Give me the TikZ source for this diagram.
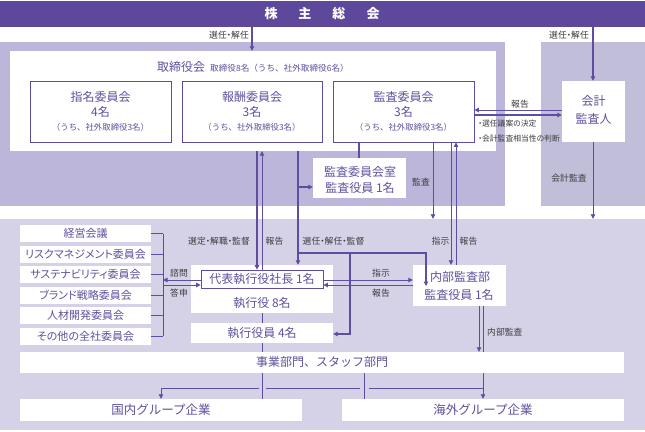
\documentclass[tikz,border=0pt]{standalone}
\usepackage{fontspec}
\setmainfont{Noto Sans CJK JP}
\newfontfamily\jpp{Noto Sans CJK JP}[RawFeature={+palt}]
\usetikzlibrary{arrows.meta,fit}
\definecolor{barpurple}{RGB}{94,72,156}
\definecolor{bgboard}{RGB}{187,182,218}
\definecolor{bgacc}{RGB}{193,190,218}
\definecolor{bgexec}{RGB}{213,210,232}
\definecolor{linepurple}{RGB}{96,76,160}
\definecolor{textpurple}{RGB}{96,80,158}
\definecolor{labelgray}{RGB}{60,60,60}
\tikzset{
  bgbox/.style={fill=#1, draw=none, inner sep=0pt},
  wbox/.style={fill=white, draw=none, inner sep=0pt},
  fbox/.style={fill=white, draw=linepurple, line width=0.8pt, inner sep=0pt},
  txt/.style={text=textpurple, inner sep=0pt, font=\fontsize{12}{14}\selectfont},
  stxt/.style={text=textpurple, inner sep=0pt, font=\fontsize{8.4}{10}\selectfont},
  ltxt/.style={text=textpurple, inner sep=0pt, font=\jpp\fontsize{11}{13}\selectfont},
  lbl/.style={text=labelgray, inner sep=0pt, font=\jpp\fontsize{8.8}{10}\selectfont},
  thk/.style={draw=linepurple, line width=1.6pt},
  mid/.style={draw=linepurple, line width=1.2pt},
  thn/.style={draw=linepurple, line width=0.8pt},
  arr/.style={-{Triangle[length=4.5pt,width=4.5pt]}},
}
\begin{document}
\begin{tikzpicture}[x=1pt,y=-1pt]
\useasboundingbox (0,0) rectangle (645,431);
% backgrounds
\node[bgbox=barpurple, fit={(0,1) (645,27)}] (bar) {};
\node[bgbox=bgboard, fit={(0,42) (505,206)}] (boardbg) {};
\node[bgbox=bgacc, fit={(541,42) (645,206)}] (accbg) {};
\node[bgbox=bgexec, fit={(0,219) (645,430)}] (execbg) {};
% boxes
\node[wbox, fit={(10,51) (496,151)}] (boardw) {};
\node[fbox, fit={(30,81) (171,142)}] (shimei) {};
\node[fbox, fit={(182,81) (322,142)}] (houshu) {};
\node[fbox, fit={(333,81) (474,142)}] (kansa) {};
\node[wbox, fit={(562,81) (625,142)}] (acc) {};
\node[wbox, fit={(313,158) (406,198)}] (kshitsu) {};
\node[wbox, fit={(191,265) (333,313)}] (ceoarea) {};
\node[fbox, fit={(201,270) (323,288)}] (ceo) {};
\node[wbox, fit={(191,323) (333,343)}] (shikko) {};
\node[wbox, fit={(413,265) (506,306)}] (naibu) {};
\node[wbox, fit={(20,225) (151,242)}] (c1) {};
\node[wbox, fit={(20,245.5) (151,262.5)}] (c2) {};
\node[wbox, fit={(20,266) (151,283)}] (c3) {};
\node[wbox, fit={(20,286.5) (151,303.5)}] (c4) {};
\node[wbox, fit={(20,307) (151,324)}] (c5) {};
\node[wbox, fit={(20,327.5) (151,344.5)}] (c6) {};
\node[wbox, fit={(20,352) (624,373)}] (jigyo) {};
\node[wbox, fit={(20,399) (302,421)}] (kokunai) {};
\node[wbox, fit={(342,399) (624,421)}] (kaigai) {};
% helper coordinates
\coordinate (cSel) at (252,0);
\coordinate (cAcc) at (593,0);
\coordinate (cP1) at (257,0);
\coordinate (cP2) at (262,0);
\coordinate (cP3) at (298,0);
\coordinate (cAud) at (359,0);
\coordinate (cKan) at (433,0);
\coordinate (cShi) at (451,0);
\coordinate (cHou) at (456,0);
\coordinate (cExe) at (350,0);
\coordinate (cNai) at (426,0);
\coordinate (cBr) at (163,0);
\coordinate (cIA1) at (479,0);
\coordinate (cIA2) at (483,0);
\coordinate (cDom) at (161,0);
\coordinate (cV2) at (364,0);
\coordinate (yR1) at (0,110);
\coordinate (yR2) at (0,115);
\coordinate (yBr) at (0,187);
\coordinate (yH) at (0,253);
\coordinate (yA) at (0,280);
\coordinate (yB) at (0,285);
\coordinate (yEx) at (0,334);
\coordinate (yG) at (0,388);
\coordinate (yNaiEnd) at (0,286);
\coordinate (g1l) at (258.5,388);
\coordinate (g1r) at (266,388);
\coordinate (g2l) at (360,388);
\coordinate (g2r) at (368.5,388);
% connectors
\draw[mid,arr] (cSel |- bar.south) -- (cSel |- boardw.north);
\draw[mid,arr] (cAcc |- bar.south) -- (cAcc |- acc.north);
\draw[thn,arr] (acc.west |- yR1) -- (kansa.east |- yR1);
\draw[mid,arr] (kansa.east |- yR2) -- (acc.west |- yR2);
\draw[thk] (cAud |- kansa.south) -- (cAud |- kshitsu.north);
\draw[thn,arr] (cKan |- kansa.south) -- (cKan |- execbg.north);
\draw[thn,arr] (cShi |- kansa.south) -- (cShi |- naibu.north);
\draw[thn,arr] (cHou |- naibu.north) -- (cHou |- kansa.south);
\draw[thn,arr] (cAcc |- acc.south) -- (cAcc |- execbg.north);
\draw[thk,arr] (cP1 |- boardw.south) -- (cP1 |- ceo.north);
\draw[thn,arr] (cP2 |- ceo.north) -- (cP2 |- boardw.south);
\draw[thk,arr] (cP3 |- boardw.south) -- (cP3 |- ceoarea.north);
\draw[thk,arr] (cP3 |- yBr) -- (kshitsu.west |- yBr);
\draw[thk,arr] (cP3 |- yH) -| (cNai |- yNaiEnd);
\draw[thk,arr] (cExe |- yH) |- (shikko.east |- yEx);
\draw[thn,arr] (ceo.east |- yA) -- (naibu.west |- yA);
\draw[thn,arr] (naibu.west |- yB) -- (ceo.east |- yB);
\draw[thn,arr] (ceo.west |- yA) -- (cBr |- yA);
\draw[thn,arr] (cBr |- yB) -- (ceo.west |- yB);
\foreach \c in {c1,c2,c3,c4,c5,c6} { \draw[thn] (\c.east) -- (cBr |- \c.east); }
\draw[thn] (cBr |- c1.east) -- (cBr |- c6.east);
\draw[thn] (cP2 |- ceoarea.south) -- (cP2 |- shikko.north);
\draw[thn] (cP2 |- shikko.south) -- (cP2 |- jigyo.north);
\draw[thn] (cP2 |- jigyo.south) -- (cP2 |- kokunai.north);
\draw[thn] (cV2 |- jigyo.south) -- (cV2 |- kaigai.north);
\draw[thn,arr] (g1l) -| (cDom |- kokunai.north);
\draw[thn] (g1r) -- (g2l);
\draw[thn,arr] (g2r) -| (cIA2 |- kaigai.north);
\draw[thn,arr] (cIA1 |- naibu.south) -- (cIA1 |- jigyo.north);
\draw[thn] (cIA2 |- naibu.south) -- (cIA2 |- jigyo.north);
\draw[thn] (cIA2 |- jigyo.south) -- (cIA2 |- yG);
% texts
\node[text=white, inner sep=0pt, font=\bfseries\fontsize{13}{15}\selectfont] (bart) at (322,14) {株\hspace{21pt}主\hspace{21pt}総\hspace{21pt}会};
\node[lbl, anchor=east] (lsel1) at (249,35) {選任・解任};
\node[lbl, anchor=east] (lsel2) at (589,35) {選任・解任};
\node[txt, anchor=west] (boardt) at (157,67) {取締役会\hspace{5pt}{\fontsize{8.6}{10}\selectfont 取締役8名（うち、社外取締役6名）}};
\node[txt] (t11) at (100.5,97) {指名委員会};
\node[txt] (t12) at (100.5,112) {4名};
\node[stxt] (t13) at (100.5,127) {（うち、社外取締役3名）};
\node[txt] (t21) at (252,97) {報酬委員会};
\node[txt] (t22) at (252,112) {3名};
\node[stxt] (t23) at (252,127) {（うち、社外取締役3名）};
\node[txt] (t31) at (403.5,97) {監査委員会};
\node[txt] (t32) at (403.5,112) {3名};
\node[stxt] (t33) at (403.5,127) {（うち、社外取締役3名）};
\node[txt] (ta1) at (593.5,101) {会計};
\node[txt] (ta2) at (593.5,119) {監査人};
\node[lbl] (lrep1) at (520,104) {報告};
\node[lbl, anchor=west, font=\jpp\fontsize{7.8}{9}\selectfont] (lb1) at (478,124) {・選任議案の決定};
\node[lbl, anchor=west, font=\jpp\fontsize{7.8}{9}\selectfont] (lb2) at (478,139) {・会計監査相当性の判断};
\node[txt] (tk1) at (360,172) {監査委員会室};
\node[txt] (tk2) at (360,188) {監査役員 1名};
\node[lbl] (lkansa) at (421,182) {監査};
\node[lbl] (lkaikei) at (569,178) {会計監査};
\node[lbl] (lsentei) at (219,241) {選定・解職・監督};
\node[lbl] (lrep2) at (274.5,241) {報告};
\node[lbl] (lsennin) at (333.5,241) {選任・解任・監督};
\node[lbl] (lshiji1) at (440.5,241) {指示};
\node[lbl] (lrep3) at (468.5,241) {報告};
\node[txt] (tceo) at (262,279) {代表執行役社長 1名};
\node[txt] (tsk) at (262,303) {執行役 8名};
\node[txt] (tsi) at (262,333) {執行役員 4名};
\node[txt] (tn1) at (460,277) {内部監査部};
\node[txt] (tn2) at (459,295) {監査役員 1名};
\node[lbl] (lshimon) at (179,273) {諮問};
\node[lbl] (ltoshin) at (179,293) {答申};
\node[lbl] (lshiji2) at (381,273) {指示};
\node[lbl] (lrep4) at (381,293) {報告};
\node[lbl, anchor=west] (lnaibu) at (487,332) {内部監査};
\node[ltxt] at (c1) (tc1) {経営会議};
\node[ltxt] at (c2) (tc2) {リスクマネジメント委員会};
\node[ltxt] at (c3) (tc3) {サステナビリティ委員会};
\node[ltxt] at (c4) (tc4) {ブランド戦略委員会};
\node[ltxt] at (c5) (tc5) {人材開発委員会};
\node[ltxt] at (c6) (tc6) {その他の全社委員会};
\node[txt] (tj) at (322,362) {事業部門、スタッフ部門};
\node[txt, font=\fontsize{12.5}{14}\selectfont] (tdom) at (161,410) {国内グループ企業};
\node[txt, font=\fontsize{12.5}{14}\selectfont] (tovs) at (483,410) {海外グループ企業};
\end{tikzpicture}
\end{document}
